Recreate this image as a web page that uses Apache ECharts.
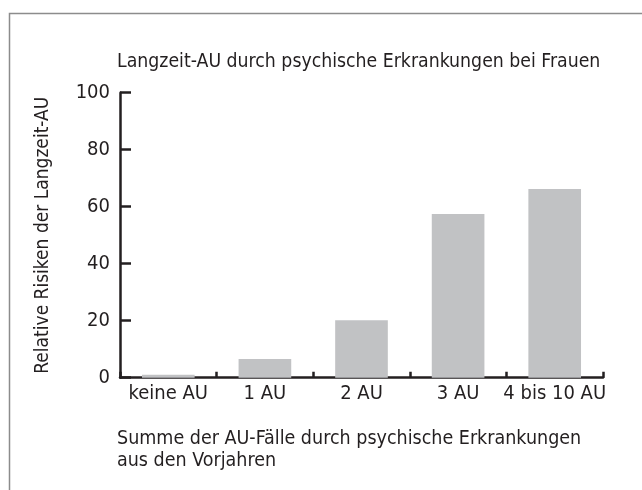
<!DOCTYPE html>
<html>
<head>
<meta charset="utf-8">
<script src="https://cdn.jsdelivr.net/npm/echarts@6/dist/echarts.min.js"></script>
<style>
html,body{margin:0;padding:0;background:#fff;}
#chart{width:642px;height:490px;}
</style>
</head>
<body>
<div id="chart"></div>
<script>
const categories = ['keine AU', '1 AU', '2 AU', '3 AU', '4 bis 10 AU'];
const values = [1.0, 6.6, 20.2, 57.4, 66.2];
const yTicks = [0, 20, 40, 60, 80, 100];
const titleText = 'Langzeit-AU durch psychische Erkrankungen bei Frauen';
const yName = 'Relative Risiken der Langzeit-AU';
const xNameLines = ['Summe der AU-Fälle durch psychische Erkrankungen', 'aus den Vorjahren'];

const FONT = '"Liberation Sans Narrow", "DejaVu Sans Condensed", sans-serif';
const TXT = '#231f20';
const AX = '#231f20';

const chart = echarts.init(document.getElementById('chart'));
chart.setOption({
  animation: false,
  backgroundColor: '#fff',
  textStyle: { fontFamily: FONT },
  grid: { left: 120, right: 39, top: 92.7, bottom: 112.3, containLabel: false },
  xAxis: {
    type: 'category',
    data: categories,
    boundaryGap: true,
    axisLine: { show: true, lineStyle: { color: AX, width: 2.5 } },
    axisTick: { show: true, inside: true, length: 6, lineStyle: { color: AX, width: 2.5 }, alignWithLabel: false, interval: 0 },
    axisLabel: { color: TXT, fontFamily: FONT, fontSize: 20, margin: 6, interval: 0 }
  },
  yAxis: {
    type: 'value',
    min: yTicks[0],
    max: yTicks[yTicks.length - 1],
    interval: 20,
    name: yName,
    nameLocation: 'middle',
    nameGap: 67,
    nameTextStyle: { color: TXT, fontFamily: FONT, fontSize: 19 },
    axisLine: { show: true, lineStyle: { color: AX, width: 2.5 } },
    axisTick: { show: true, inside: true, length: 11, lineStyle: { color: AX, width: 2.5 } },
    axisLabel: { color: TXT, fontFamily: FONT, fontSize: 20, margin: 10 },
    splitLine: { show: false }
  },
  series: [{
    type: 'bar',
    data: values,
    barWidth: '54.5%',
    itemStyle: { color: '#c1c2c4' },
    z: 1
  }],
  graphic: [
    { type: 'polyline', silent: true, z: -10, shape: { points: [[9.5, 900], [9.5, 13.5], [900, 13.5]] },
      style: { fill: null, stroke: '#8c8c8c', lineWidth: 1.5 } },
    { type: 'text', x: 117, y: 62, style: { text: titleText, fill: TXT, font: '19.3px ' + FONT, verticalAlign: 'middle' } },
    { type: 'text', x: 117, y: 439, style: { text: xNameLines[0], fill: TXT, font: '19.5px ' + FONT, verticalAlign: 'middle' } },
    { type: 'text', x: 117, y: 461, style: { text: xNameLines[1], fill: TXT, font: '19.5px ' + FONT, verticalAlign: 'middle' } }
  ]
});
</script>
</body>
</html>
